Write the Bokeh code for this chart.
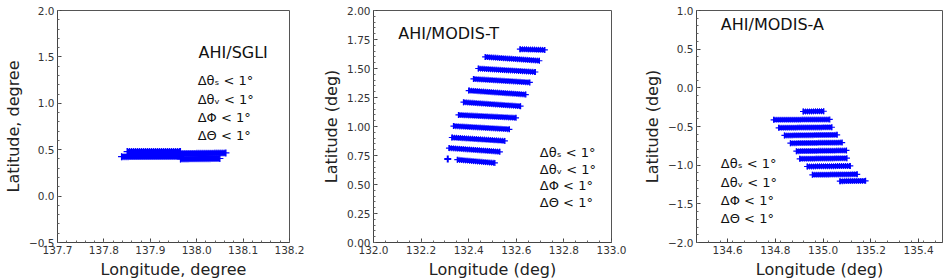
import numpy as np
from bokeh.plotting import figure
from bokeh.layouts import row
from bokeh.models import ColumnDataSource, FixedTicker, CustomJSTickFormatter, Label
from bokeh.embed import file_html
from bokeh.resources import INLINE

# ---------------- data ----------------
# Panel 1: AHI/SGLI  (row segments: start lon/lat -> end lon/lat)
sgli_lon0 = [137.850, 137.838, 137.965, 137.965]
sgli_lat0 = [0.480, 0.425, 0.458, 0.400]
sgli_lon1 = [137.965, 137.965, 138.063, 138.050]
sgli_lat1 = [0.480, 0.428, 0.465, 0.405]
sgli_xticks = [137.7, 137.8, 137.9, 138.0, 138.1, 138.2]
sgli_yticks = [-0.5, 0.0, 0.5, 1.0, 1.5, 2.0]

# Panel 2: AHI/MODIS-T
mt_lon0 = [132.615, 132.469, 132.440, 132.420, 132.400, 132.378, 132.357, 132.336, 132.329, 132.317, 132.352]
mt_lat0 = [1.667, 1.600, 1.500, 1.410, 1.310, 1.210, 1.100, 1.004, 0.905, 0.814, 0.714]
mt_lon1 = [132.720, 132.697, 132.680, 132.657, 132.640, 132.618, 132.599, 132.571, 132.552, 132.531, 132.510]
mt_lat1 = [1.660, 1.567, 1.470, 1.380, 1.275, 1.175, 1.075, 0.976, 0.876, 0.782, 0.686]
mt_single_lon = [132.312]
mt_single_lat = [0.720]
mt_xticks = [132.0, 132.2, 132.4, 132.6, 132.8, 133.0]
mt_yticks = [0.0, 0.25, 0.5, 0.75, 1.0, 1.25, 1.5, 1.75, 2.0]

# Panel 3: AHI/MODIS-A
ma_lon0 = [134.916, 134.793, 134.814, 134.838, 134.863, 134.888, 134.902, 134.933, 134.955, 135.070]
ma_lat0 = [-0.306, -0.414, -0.517, -0.616, -0.716, -0.819, -0.918, -1.017, -1.125, -1.207]
ma_lon1 = [135.003, 135.028, 135.037, 135.059, 135.080, 135.098, 135.100, 135.114, 135.143, 135.178]
ma_lat1 = [-0.303, -0.408, -0.510, -0.608, -0.708, -0.810, -0.910, -1.010, -1.118, -1.203]
ma_xticks = [134.6, 134.8, 135.0, 135.2, 135.4]
ma_yticks = [-2.0, -1.5, -1.0, -0.5, 0.0, 0.5, 1.0]

cond_labels = ["Δθₛ < 1°", "Δθᵥ < 1°", "ΔΦ < 1°", "ΔΘ < 1°"]

FONT = "DejaVu Sans"
BLUE = "#0000ff"


def make_panel(xr, yr, xticks, yticks, xdec, ydec, xminor_step, yminor_step,
               xlabel, ylabel, lon0, lat0, lon1, lat1,
               border_left, frame_w, border_right, thick):
    p = figure(x_range=xr, y_range=yr, frame_width=frame_w, frame_height=232,
               min_border_left=border_left, min_border_right=border_right,
               min_border_top=10, min_border_bottom=38,
               output_backend="svg", toolbar_location=None,
               background_fill_color="white", border_fill_color="white")
    p.grid.visible = False
    p.outline_line_color = "#555555"
    p.outline_line_width = 1

    xminor = list(np.round(np.arange(xr[0], xr[1] + 1e-9, xminor_step), 4))
    yminor = list(np.round(np.arange(yr[0], yr[1] + 1e-9, yminor_step), 4))
    p.xaxis.ticker = FixedTicker(ticks=xticks, minor_ticks=xminor)
    p.yaxis.ticker = FixedTicker(ticks=yticks, minor_ticks=yminor)
    p.xaxis.formatter = CustomJSTickFormatter(code="return tick.toFixed(%d).replace('-', '\u2212');" % xdec)
    p.yaxis.formatter = CustomJSTickFormatter(code="return tick.toFixed(%d).replace('-', '\u2212');" % ydec)
    p.xaxis.axis_label = xlabel
    p.yaxis.axis_label = ylabel
    for ax in (p.xaxis[0], p.yaxis[0]):
        ax.major_tick_in = 4
        ax.major_tick_out = 0
        ax.minor_tick_in = 2
        ax.minor_tick_out = 0
        ax.axis_line_color = "#444444"
        ax.major_tick_line_color = "#444444"
        ax.minor_tick_line_color = "#666666"
        ax.major_label_text_font = FONT
        ax.major_label_text_font_size = "10.5px"
        ax.major_label_text_color = "#333333"
        ax.major_label_standoff = 3
        ax.axis_label_text_font = FONT
        ax.axis_label_text_font_size = "16px"
        ax.axis_label_text_font_style = "normal"
        ax.axis_label_text_color = "#222222"
        ax.axis_label_standoff = 3

    src = ColumnDataSource(dict(x0=lon0, y0=lat0, x1=lon1, y1=lat1))
    p.segment("x0", "y0", "x1", "y1", source=src, line_color=BLUE, line_width=thick - 1.5)
    p.segment("x0", "y0", "x1", "y1", source=src, line_color=BLUE, line_width=thick,
              line_dash="1 1")
    p.scatter("x0", "y0", source=src, marker="cross", size=thick, line_color=BLUE, line_width=1.2)
    p.scatter("x1", "y1", source=src, marker="cross", size=thick, line_color=BLUE, line_width=1.2)
    return p


def add_texts(p, title, tx, ty, cx, cys):
    p.add_layout(Label(x=tx, y=ty, text=title, text_font=FONT, text_font_size="16px",
                       text_color="#111111", text_baseline="middle", text_align="left"))
    for lab, cy in zip(cond_labels, cys):
        p.add_layout(Label(x=cx, y=cy, text=lab, text_font=FONT, text_font_size="13px",
                           text_color="#111111", text_baseline="middle", text_align="left"))


p1 = make_panel((137.7, 138.2), (-0.5, 2.0), sgli_xticks, sgli_yticks, 1, 1, 0.02, 0.1,
                "Longitude, degree", "Latitude, degree",
                sgli_lon0, sgli_lat0, sgli_lon1, sgli_lat1, 57, 232, 27, 7)
add_texts(p1, "AHI/SGLI", 138.004, 1.547, 138.002, [1.246, 1.04, 0.85, 0.653])

p2 = make_panel((132.0, 133.0), (0.0, 2.0), mt_xticks, mt_yticks, 1, 2, 0.05, 0.05,
                "Longitude (deg)", "Latitude (deg)",
                mt_lon0, mt_lat0, mt_lon1, mt_lat1, 57, 238, 21, 6)
p2.scatter(mt_single_lon, mt_single_lat, marker="cross", size=7, line_color=BLUE, line_width=2)
add_texts(p2, "AHI/MODIS-T", 132.104, 1.80, 132.699, [0.775, 0.632, 0.49, 0.348])

p3 = make_panel((134.47, 135.5), (-2.0, 1.0), ma_xticks, ma_yticks, 1, 1, 0.05, 0.1,
                "Longitude (deg)", "Latitude (deg)",
                ma_lon0, ma_lat0, ma_lon1, ma_lat1, 64, 246, 2, 6)
add_texts(p3, "AHI/MODIS-A", 134.572, 0.815, 134.572, [-0.982, -1.22, -1.457, -1.694])

layout = row(p1, p2, p3, spacing=0)
open("out.html", "w").write(file_html(layout, INLINE))
